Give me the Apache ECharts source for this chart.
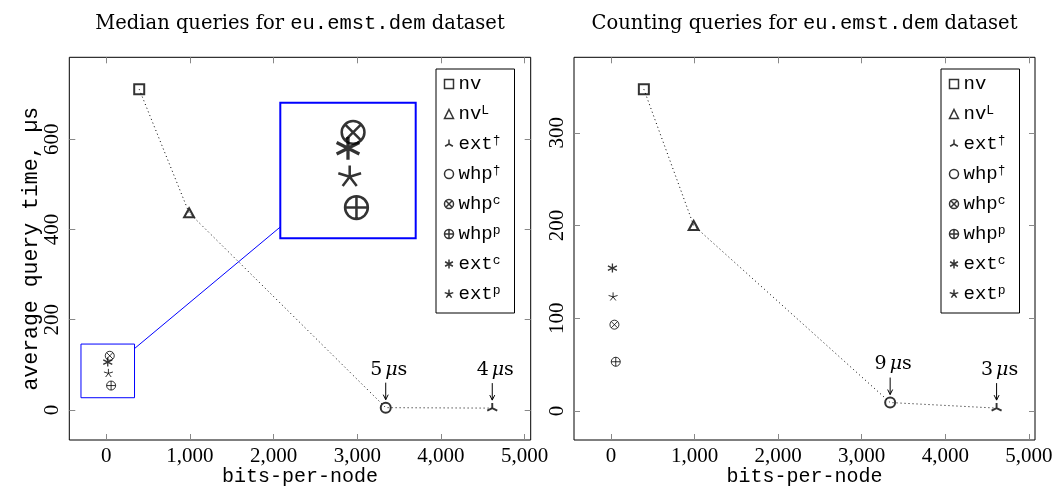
<!DOCTYPE html>
<html><head><meta charset="utf-8">
<script src="https://cdn.jsdelivr.net/npm/echarts@6/dist/echarts.min.js"></script>
<style>html,body{margin:0;padding:0;background:#fff}#c{width:1055px;height:503px}</style>
</head><body><div id="c"></div>
<script>
// ---------- data ----------
const methods = ['nv', 'nvL', 'extDag', 'whpDag', 'whpC', 'whpP', 'extC', 'extP'];
const legendLabels = ['nv', 'nv{sup|L}', 'ext{sup|†}', 'whp{sup|†}', 'whp{sup|c}', 'whp{sup|p}', 'ext{sup|c}', 'ext{sup|p}'];
const bitsPerNode = [394, 990, 4613, 3340, 42, 58, 18, 26];
const medianTime = [711, 437, 4, 5, 120, 54, 106, 81];
const countingTime = [347, 200, 3, 9, 93, 53, 154, 123];
const frontier = ['nv', 'nvL', 'whpDag', 'extDag'];
const annotated = ['whpDag', 'extDag'];
const xTicks = [0, 1000, 2000, 3000, 4000, 5000];
const medianTicks = [0, 200, 400, 600];
const countingTicks = [0, 100, 200, 300];
const zoomedMethods = ['whpC', 'whpP', 'extC', 'extP'];
const zoomX = [-302, 338];
const zoomY = [27, 146];
const titleTexts = ['Median queries for ', 'Counting queries for '];
const titleMono = 'eu.emst.dem';
const titleTail = ' dataset';
const xName = 'bits-per-node';
const yName = 'average query time, µs';

// ---------- style / layout ----------
const SERIF = 'Liberation Serif';
const WSERIF = 'DejaVu Serif';
const MONO = 'Liberation Mono';
const grids = [
  {left: 69.3, top: 57.3, width: 461.4, height: 382.7},
  {left: 574, top: 57.3, width: 461, height: 382.7},
  {left: 280.3, top: 102.7, width: 135.4, height: 135.6}
];
const P = {
  mercedes: 'path://M10,10 L10,0 M10,10 L1.34,15 M10,10 L18.66,15 M10,20 L10,20',
  asterisk: 'path://M10,0 L10,20 M1.34,5 L18.66,15 M1.34,15 L18.66,5',
  star: 'path://M10,10 L10,0 M10,10 L0.49,6.91 M10,10 L4.12,18.09 M10,10 L15.88,18.09 M10,10 L19.51,6.91 M10,20 L10,20',
  otimes: 'path://M0,10 A10,10 0 1 1 20,10 A10,10 0 1 1 0,10 Z M2.93,2.93 L17.07,17.07 M17.07,2.93 L2.93,17.07',
  oplus: 'path://M0,10 A10,10 0 1 1 20,10 A10,10 0 1 1 0,10 Z M0,10 L20,10 M10,0 L10,20'
};
const symbolOf = {nv: 'rect', nvL: 'triangle', extDag: P.mercedes, whpDag: 'circle', whpC: P.otimes, whpP: P.oplus, extC: P.asterisk, extP: P.star};
const sizeOf = {nv: [10, 10], nvL: [10, 9], extDag: [10, 10], whpDag: [10, 10], whpC: [9, 9], whpP: [9, 9], extC: [9, 9], extP: [9, 9]};
const widthOf = {nv: 2, nvL: 2, extDag: 1.9, whpDag: 2, whpC: 1, whpP: 1, extC: 1.3, extP: 1};

function enlarge(arr) {
  const mn = Math.min(...arr), mx = Math.max(...arr), r = mx - mn;
  return [mn - 0.1 * r, mx + 0.1 * r];
}
const fmt = v => String(v).replace(/\B(?=(\d{3})+(?!\d))/g, ',');
const tickStyle = {color: '#888', width: 1};

const times = [medianTime, countingTime];
const yTicks = [medianTicks, countingTicks];
const xRange = enlarge(bitsPerNode);

const xAxis = [], yAxis = [], series = [];
[0, 1].forEach(g => {
  const yr = enlarge(times[g]);
  xAxis.push({gridIndex: g, type: 'value', min: xRange[0], max: xRange[1], position: 'bottom',
    axisLine: {show: false, onZero: false}, splitLine: {show: false},
    axisTick: {inside: true, length: 6, customValues: xTicks, lineStyle: tickStyle},
    axisLabel: {customValues: xTicks, formatter: fmt, fontFamily: SERIF, fontSize: 21, color: '#000', margin: 6},
    name: xName, nameLocation: 'middle', nameGap: 27, nameMoveOverlap: false,
    nameTextStyle: {fontFamily: MONO, fontSize: 20, color: '#000'}});
  xAxis.push({gridIndex: g, type: 'value', min: xRange[0], max: xRange[1], position: 'top',
    axisLine: {show: false, onZero: false}, splitLine: {show: false}, axisLabel: {show: false},
    axisTick: {inside: true, length: 6, customValues: xTicks, lineStyle: tickStyle}});
  const yl = {gridIndex: g, type: 'value', min: yr[0], max: yr[1], position: 'left',
    axisLine: {show: false, onZero: false}, splitLine: {show: false},
    axisTick: {inside: true, length: 6, customValues: yTicks[g], lineStyle: tickStyle},
    axisLabel: {customValues: yTicks[g], rotate: 90, fontFamily: SERIF, fontSize: 21, color: '#000', margin: 6}};
  if (g === 0) {
    yl.name = yName; yl.nameLocation = 'middle'; yl.nameGap = 27; yl.nameMoveOverlap = false;
    yl.nameTextStyle = {fontFamily: MONO, fontSize: 21.5, color: '#000'};
  }
  yAxis.push(yl);
  yAxis.push({gridIndex: g, type: 'value', min: yr[0], max: yr[1], position: 'right',
    axisLine: {show: false, onZero: false}, splitLine: {show: false}, axisLabel: {show: false},
    axisTick: {inside: true, length: 6, customValues: yTicks[g], lineStyle: tickStyle}});

  // dotted frontier line
  series.push({type: 'line', name: 'frontier' + g, xAxisIndex: 2 * g, yAxisIndex: 2 * g, silent: true,
    symbol: 'none', z: 1,
    lineStyle: {color: '#000', width: 1, type: [1, 3]},
    data: frontier.map(k => { const i = methods.indexOf(k); return [bitsPerNode[i], times[g][i]]; })});
  methods.forEach((k, i) => {
    series.push({type: 'scatter', name: k, xAxisIndex: 2 * g, yAxisIndex: 2 * g, silent: true, z: 3,
      symbol: symbolOf[k], symbolSize: sizeOf[k],
      itemStyle: {color: 'none', borderColor: '#000', borderWidth: widthOf[k]},
      data: [[bitsPerNode[i], times[g][i]]]});
  });
});

// inset (magnified) grid
const mag = (grids[2].width / (zoomX[1] - zoomX[0])) / (grids[0].width / (xRange[1] - xRange[0]));
xAxis.push({gridIndex: 2, type: 'value', min: zoomX[0], max: zoomX[1], show: false});
yAxis.push({gridIndex: 2, type: 'value', min: zoomY[0], max: zoomY[1], show: false});
zoomedMethods.forEach(k => {
  const i = methods.indexOf(k);
  series.push({type: 'scatter', name: k, xAxisIndex: 4, yAxisIndex: 4, silent: true, z: 3,
    symbol: symbolOf[k], symbolSize: sizeOf[k].map(s => s * mag),
    itemStyle: {color: 'none', borderColor: '#000', borderWidth: widthOf[k] * mag},
    data: [[bitsPerNode[i], medianTime[i]]]});
});

function legend(left) {
  return {left: left, top: 69, orient: 'vertical', selectedMode: false, data: methods,
    formatter: n => legendLabels[methods.indexOf(n)],
    backgroundColor: '#fff', borderColor: '#000', borderWidth: 1, borderRadius: 0,
    padding: [5, 14, 9, 6], itemWidth: 9, itemHeight: 9, itemGap: 10,
    itemStyle: {borderWidth: 1.5, borderColor: '#000', color: 'none'},
    textStyle: {fontFamily: MONO, fontSize: 19, color: '#000', lineHeight: 20,
      rich: {sup: {fontFamily: MONO, fontSize: 13, lineHeight: 13, verticalAlign: 'top', color: '#000'}}}};
}

const chart = echarts.init(document.getElementById('c'), null, {renderer: 'canvas'});
chart.setOption({
  animation: false,
  backgroundColor: '#fff',
  grid: grids.map((g, i) => Object.assign({}, g, {show: true, containLabel: false, outerBoundsMode: 'none',
    borderColor: i === 2 ? '#0000ff' : '#000', borderWidth: i === 2 ? 2 : 1, backgroundColor: '#fff'})),
  xAxis, yAxis, series,
  legend: [legend(436), legend(941)]
});

// ---------- derived graphics (positions from the library's scales) ----------
const gfx = [];
const titleRich = {
  s: {fontFamily: WSERIF, fontSize: 19.5, fill: '#000'},
  m: {fontFamily: MONO, fontSize: 20.5, fill: '#000'}
};
[0, 1].forEach(g => {
  const gr = grids[g];
  gfx.push({type: 'text', x: gr.left + gr.width / 2, y: 24, z: 10,
    style: {text: '{s|' + titleTexts[g] + '}{m|' + titleMono + '}{s|' + titleTail + '}', rich: titleRich,
      align: 'center', verticalAlign: 'middle', fill: '#000'}});
  annotated.forEach(k => {
    const i = methods.indexOf(k);
    const v = times[g][i];
    const p = chart.convertToPixel({gridIndex: g}, [bitsPerNode[i], v]);
    const x = p[0], tip = p[1] - 8, top = p[1] - 25;
    gfx.push({type: 'line', z: 10, shape: {x1: x, y1: top, x2: x, y2: tip}, style: {stroke: '#000', lineWidth: 1}});
    gfx.push({type: 'polyline', z: 10, shape: {points: [[x - 2.5, tip - 5], [x, tip], [x + 2.5, tip - 5]]},
      style: {stroke: '#000', lineWidth: 1, fill: null}});
    gfx.push({type: 'text', z: 10, x: x + 3, y: p[1] - 38,
      style: {text: '{n|' + v + '}{sp| }{mu|μ}{n|s}', align: 'center', verticalAlign: 'middle',
        rich: {n: {fontFamily: WSERIF, fontSize: 19, fill: '#000'}, sp: {fontFamily: SERIF, fontSize: 12, fill: '#000'},
          mu: {fontFamily: WSERIF, fontSize: 19, fontStyle: 'italic', fill: '#000'}}}});
  });
});
// spy box and connector
const a = chart.convertToPixel({gridIndex: 0}, [zoomX[0], zoomY[1]]);
const b = chart.convertToPixel({gridIndex: 0}, [zoomX[1], zoomY[0]]);
const A = chart.convertToPixel({gridIndex: 2}, [zoomX[0], zoomY[1]]);
const B = chart.convertToPixel({gridIndex: 2}, [zoomX[1], zoomY[0]]);
gfx.push({type: 'rect', z: 10, shape: {x: a[0], y: a[1], width: b[0] - a[0], height: b[1] - a[1]},
  style: {stroke: '#0000ff', lineWidth: 1, fill: null}});
const sc = [(a[0] + b[0]) / 2, (a[1] + b[1]) / 2], sh = [(b[0] - a[0]) / 2, (b[1] - a[1]) / 2];
const bc = [(A[0] + B[0]) / 2, (A[1] + B[1]) / 2], bh = [(B[0] - A[0]) / 2, (B[1] - A[1]) / 2];
const d = [bc[0] - sc[0], bc[1] - sc[1]];
const t1 = Math.min(sh[0] / Math.abs(d[0]), sh[1] / Math.abs(d[1]));
const t2 = Math.min(bh[0] / Math.abs(d[0]), bh[1] / Math.abs(d[1]));
gfx.push({type: 'line', z: 10, shape: {x1: sc[0] + t1 * d[0], y1: sc[1] + t1 * d[1], x2: bc[0] - t2 * d[0], y2: bc[1] - t2 * d[1]},
  style: {stroke: '#0000ff', lineWidth: 1}});
chart.setOption({graphic: gfx});
</script>
</body></html>
